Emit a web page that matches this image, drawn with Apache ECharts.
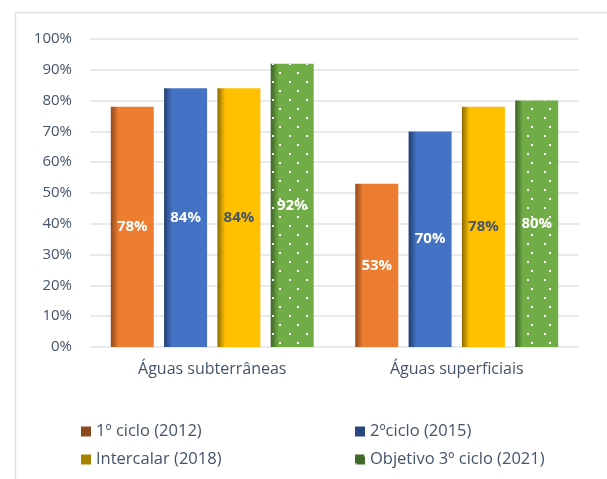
<!DOCTYPE html>
<html>
<head>
<meta charset="utf-8">
<script src="https://cdn.jsdelivr.net/npm/echarts@6/dist/echarts.min.js"></script>
<style>
  html, body { margin: 0; padding: 0; background: #fff; }
  #chart { width: 607px; height: 479px; }
</style>
</head>
<body>
<div id="chart"></div>
<script>
const categories = ['Águas subterrâneas', 'Águas superficiais']
const seriesNames = ['1º ciclo (2012)', '2ºciclo (2015)', 'Intercalar (2018)', 'Objetivo 3º ciclo (2021)']
const ciclo1 = [78, 53]
const ciclo2 = [84, 70]
const intercalar = [84, 78]
const objetivo = [92, 80]
const yTicks = [0, 10, 20, 30, 40, 50, 60, 70, 80, 90, 100]

const textColor = '#44546a'
const font = '"Open Sans", sans-serif'

// base colour, dark edge colour, legend swatch, label colour
const palette = [
  { base: '#ed7d31', dark: '#8f4a1c', swatch: '#8d4a1f', label: '#ffffff' },
  { base: '#4472c4', dark: '#223e72', swatch: '#28467f', label: '#ffffff' },
  { base: '#ffc000', dark: '#8c6a00', swatch: '#a68200', label: '#44546a' },
  { base: '#70ad47', dark: '#3c6226', swatch: '#3f6a2a', label: '#ffffff' },
]

function shade(c) {
  return new echarts.graphic.LinearGradient(0, 0, 1, 0, [
    { offset: 0, color: c.dark },
    { offset: 0.18, color: c.base },
    { offset: 1, color: c.base },
  ])
}

const values = [ciclo1, ciclo2, intercalar, objetivo]

const chart = echarts.init(document.getElementById('chart'))

const series = values.map((vals, i) => {
  const c = palette[i]
  const s = {
    name: seriesNames[i],
    type: 'bar',
    data: vals,
    barGap: '24%',
    barCategoryGap: '17%',
    itemStyle: { color: shade(c) },
    label: {
      show: true,
      position: 'inside',
      formatter: '{c}%',
      color: c.label,
      fontFamily: font,
      fontWeight: 'bold',
      fontSize: 15,
    },
  }
  if (i === 3) {
    s.itemStyle.decal = {
      symbol: 'rect',
      symbolSize: 1,
      color: '#ffffff',
      dashArrayX: [[2, 15], [0, 8.5, 2, 6.5]],
      dashArrayY: [2, 6.5],
    }
  }
  return s
})

function legendData(idx) {
  return idx.map((i) => ({ name: seriesNames[i], itemStyle: { color: palette[i].swatch } }))
}

const legendCommon = {
  orient: 'vertical',
  top: 418,
  itemWidth: 10,
  itemHeight: 10,
  itemGap: 11,
  icon: 'rect',
  textStyle: { color: textColor, fontFamily: font, fontSize: 16.5 },
}

chart.setOption({
  animation: false,
  graphic: [{
    type: 'rect',
    left: 13,
    top: 10,
    shape: { width: 700, height: 600 },
    style: { fill: 'none', stroke: '#dde1e8', lineWidth: 1.5 },
    silent: true,
  }],
  grid: { left: 90, right: 28, top: 39, bottom: 132 },
  legend: [
    Object.assign({ left: 76, data: legendData([0, 2]) }, legendCommon),
    Object.assign({ left: 350, data: legendData([1, 3]) }, legendCommon),
  ],
  xAxis: {
    type: 'category',
    data: categories,
    axisLine: { show: false },
    axisTick: { show: false },
    axisLabel: { color: textColor, fontFamily: font, fontSize: 16, margin: 14 },
  },
  yAxis: {
    type: 'value',
    min: yTicks[0],
    max: yTicks[yTicks.length - 1],
    interval: 10,
    axisLine: { show: false },
    axisTick: { show: false },
    axisLabel: {
      color: textColor,
      fontFamily: font,
      fontSize: 15,
      margin: 18,
      formatter: (v) => v + '%',
    },
    splitLine: { lineStyle: { color: '#dfe3ea', width: 1.5 } },
  },
  series,
})
</script>
</body>
</html>
